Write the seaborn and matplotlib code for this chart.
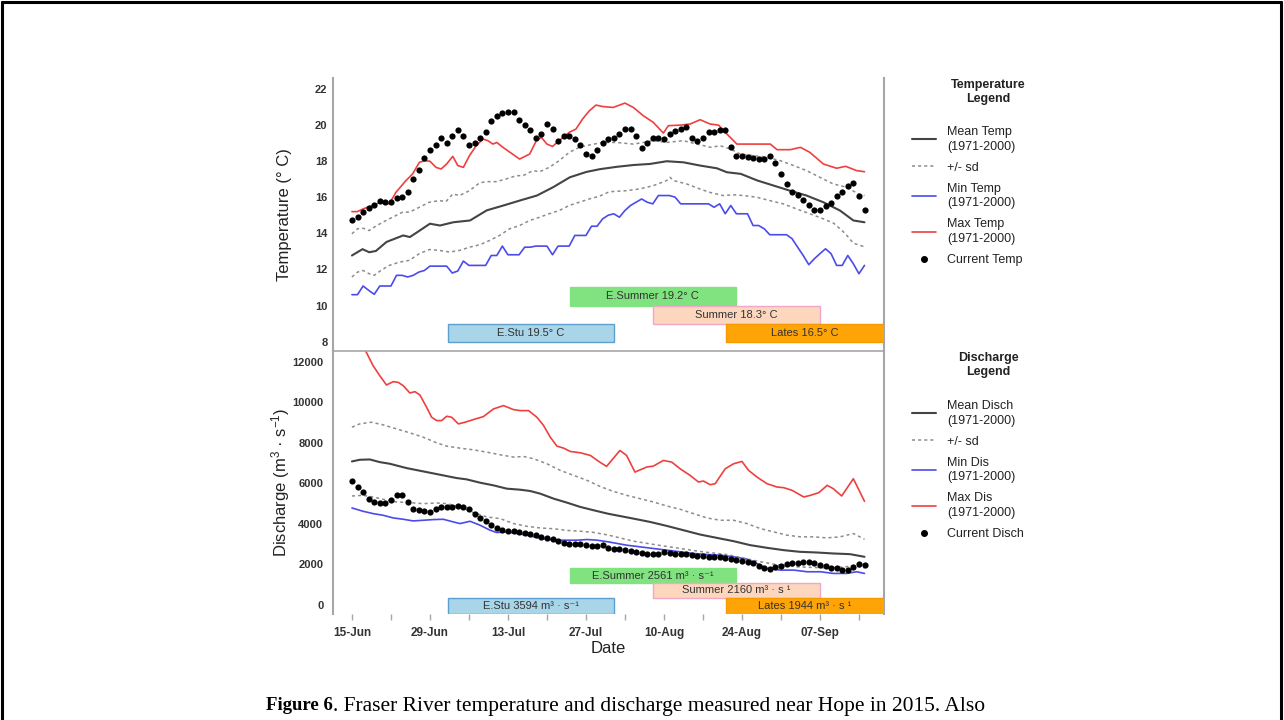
import pandas as pd
import seaborn as sns
import matplotlib.pyplot as plt
from matplotlib.lines import Line2D

# day 0 = 15-Jun-2015, daily readings up to 15-Sep
start = pd.Timestamp("2015-06-15")
days = list(range(93))

# ---- temperature panel (deg C) ----
temp_current = [14.71, 14.89, 15.20, 15.41, 15.59, 15.77, 15.76, 15.76, 15.96, 16.00,
                16.27, 17.01, 17.52, 18.19, 18.63, 18.89, 19.28, 19.00, 19.40, 19.70,
                19.40, 18.91, 18.98, 19.29, 19.62, 20.21, 20.49, 20.66, 20.71, 20.69,
                20.27, 19.99, 19.70, 19.25, 19.50, 20.08, 19.77, 19.11, 19.40, 19.40,
                19.20, 18.91, 18.39, 18.28, 18.63, 18.98, 19.20, 19.28, 19.48, 19.79,
                19.79, 19.40, 18.72, 18.98, 19.28, 19.28, 19.22, 19.50, 19.68, 19.79,
                19.90, 19.28, 19.09, 19.29, 19.61, 19.61, 19.70, 19.70, 18.80, 18.30,
                18.30, 18.24, 18.15, 18.11, 18.11, 18.30, 17.89, 17.30, 16.71, 16.29,
                16.13, 15.83, 15.59, 15.31, 15.31, 15.50, 15.70, 16.09, 16.29, 16.60,
                16.81, 16.09, 15.30]

t_mean_day = [0, 1.9, 3.1, 4.3, 6.2, 9.2, 10.4, 12.2, 14, 15.8, 18.2, 21.2, 24.2, 27.2,
              30.2, 33.2, 36.1, 39.1, 42.1, 44.5, 47.5, 50.5, 53.5, 56.5, 59.5, 62.5,
              65.5, 67.3, 69.8, 72.8, 75.7, 78.6, 81.6, 84.6, 87.6, 90, 92]
t_mean = [12.77, 13.12, 12.95, 13.02, 13.52, 13.88, 13.79, 14.16, 14.53, 14.43, 14.61,
          14.71, 15.27, 15.54, 15.82, 16.09, 16.55, 17.10, 17.40, 17.55, 17.68, 17.78,
          17.84, 17.99, 17.93, 17.75, 17.60, 17.38, 17.29, 16.92, 16.64, 16.36, 16.09,
          15.72, 15.26, 14.71, 14.61]

t_sdhi_day = [0, 1, 2, 3.1, 4, 5.5, 7.3, 9.1, 10.3, 12.1, 13.9, 15.7, 16.9, 18.1, 19.3,
              21.1, 22.9, 24.1, 25.9, 27.7, 29.5, 30.7, 32.5, 33.7, 35.4, 37.2, 39, 40.8,
              42.6, 45, 47.5, 50.5, 52.3, 54.1, 56.5, 59.5, 61.9, 64.4, 66.1, 67.9, 69.7,
              72.1, 74.5, 76.9, 79.3, 81.6, 84, 86.4, 88.8, 90.9, 92]
t_sdhi = [13.97, 14.25, 14.28, 14.15, 14.34, 14.61, 14.89, 15.17, 15.17, 15.44, 15.72,
          15.81, 15.76, 16.18, 16.09, 16.36, 16.79, 16.86, 16.86, 17.01, 17.19, 17.19,
          17.47, 17.41, 17.65, 18.02, 18.48, 18.76, 18.89, 19.03, 19.03, 18.94, 19.03,
          19.13, 19.03, 19.13, 18.94, 18.76, 18.85, 18.67, 18.39, 18.30, 18.21, 18.02,
          17.75, 17.47, 17.10, 16.73, 16.55, 16.18, 16.09]

t_sdlo_day = [0, 1, 2, 3.1, 4, 5.2, 6.7, 8.5, 10.3, 12.1, 13.9, 15.7, 17.5, 19.3, 21.1,
              22.9, 24.7, 26.5, 28.3, 30.1, 31.9, 33.7, 35.4, 37.2, 39, 40.8, 42.6, 44.4,
              46.2, 49.3, 51.7, 54.1, 56.5, 57.1, 57.7, 60.1, 62.4, 64.2, 66.6, 68.5, 70.3,
              72.6, 75, 77.4, 79.8, 82.2, 84.6, 86.5, 88.5, 90, 92]
t_sdlo = [11.58, 11.85, 11.94, 11.76, 11.67, 11.94, 12.22, 12.40, 12.50, 12.87, 13.10,
          13.05, 12.96, 13.05, 13.23, 13.36, 13.60, 13.88, 14.25, 14.43, 14.71, 14.89,
          15.08, 15.26, 15.54, 15.72, 15.90, 16.05, 16.30, 16.36, 16.46, 16.64, 16.92,
          17.10, 16.92, 16.73, 16.46, 16.27, 16.09, 16.13, 16.09, 16.00, 15.81, 15.63,
          15.35, 15.08, 14.80, 14.55, 14.00, 13.45, 13.25]

t_min_day = [0, 1, 2, 3, 4, 5, 7, 8, 9, 10, 11, 12, 13, 14, 17, 18, 19, 20, 21, 24, 25,
             26, 27, 28, 30, 31, 32, 33, 35, 36, 37, 39, 40, 42, 43, 44, 45, 46, 47, 48,
             49, 50, 51, 52, 53, 54, 55, 57, 58, 59, 64, 65, 66, 67, 68, 69, 71, 72, 73,
             74, 75, 78, 79, 80, 81, 82, 83, 84, 85, 86, 87, 88, 89, 90, 91, 92]
t_min = [10.60, 10.60, 11.08, 10.84, 10.62, 11.08, 11.08, 11.67, 11.67, 11.58, 11.67,
         11.85, 11.94, 12.18, 12.18, 11.80, 11.91, 12.46, 12.22, 12.22, 12.77, 12.77,
         13.29, 12.81, 12.81, 13.23, 13.23, 13.29, 13.29, 12.81, 13.29, 13.29, 13.88,
         13.88, 14.39, 14.39, 14.80, 15.00, 15.08, 14.89, 15.26, 15.54, 15.72, 15.90,
         15.72, 15.63, 16.09, 16.09, 16.00, 15.63, 15.63, 15.44, 15.63, 15.08, 15.54,
         15.08, 15.08, 14.43, 14.43, 14.25, 13.92, 13.92, 13.70, 13.23, 12.77, 12.26,
         12.59, 12.87, 13.14, 12.87, 12.22, 12.22, 12.77, 12.31, 11.76, 12.22]

t_max_day = [0, 1, 2, 3.7, 5, 6.7, 7.9, 9.7, 10.9, 12.1, 13.1, 14, 15.1, 16, 17, 18.1, 19,
             20, 21.1, 22.3, 23.5, 24.4, 25.3, 26, 27.1, 30.1, 31.9, 33.1, 34, 35, 36,
             37.2, 39, 40.2, 41.4, 42.6, 43.8, 45, 46.9, 49, 50.5, 52.3, 54.1, 55.9, 56.8,
             58.9, 60.7, 62.5, 64.3, 65.8, 67, 69.1, 75.1, 76.3, 78.7, 80.5, 82.2, 84.6,
             87, 88.6, 90.6, 92]
t_max = [15.20, 15.20, 15.35, 15.54, 15.70, 15.63, 16.27, 16.92, 17.29, 17.93, 18.02,
         17.99, 17.65, 17.56, 17.84, 18.26, 17.75, 17.65, 18.30, 18.85, 19.22, 19.13,
         18.94, 19.03, 18.76, 18.11, 18.39, 19.13, 19.31, 18.94, 18.81, 19.13, 19.59,
         19.77, 20.33, 20.78, 21.10, 21.02, 20.97, 21.21, 20.97, 20.51, 20.14, 19.55,
         19.96, 19.99, 20.05, 20.29, 20.05, 19.99, 19.59, 18.94, 18.94, 18.63, 18.63,
         18.76, 18.48, 17.84, 17.60, 17.71, 17.47, 17.41]

# ---- discharge panel (m3/s) ----
disch_current = [6098, 5819, 5574, 5246, 5082, 5049, 5049, 5164, 5410, 5410,
                 5082, 4754, 4672, 4623, 4590, 4754, 4836, 4836, 4836, 4869,
                 4836, 4721, 4508, 4311, 4147, 3934, 3803, 3689, 3656, 3656,
                 3607, 3574, 3525, 3443, 3361, 3311, 3246, 3148, 3082, 3033,
                 3033, 3033, 2951, 2902, 2918, 2951, 2820, 2754, 2738, 2705,
                 2672, 2623, 2541, 2508, 2508, 2508, 2590, 2541, 2492, 2492,
                 2492, 2459, 2426, 2426, 2377, 2344, 2344, 2295, 2262, 2213,
                 2164, 2131, 2049, 1934, 1803, 1770, 1885, 1934, 2000, 2049,
                 2049, 2098, 2098, 2049, 1967, 1918, 1836, 1803, 1721, 1721,
                 1885, 2000, 1967]

q_mean_day = [0, 1.4, 3.2, 5, 6.8, 9.8, 12.8, 15.8, 18.8, 20.6, 23, 25.4, 27.8, 30.2, 32,
              33.8, 36.2, 38.6, 41, 43.4, 46, 50.5, 53.5, 56.5, 59.5, 62.5, 65.5, 68.5,
              71.5, 74.5, 77.5, 80.4, 83.4, 86.4, 89.4, 92]
q_mean = [7082, 7164, 7180, 7049, 6967, 6754, 6590, 6426, 6262, 6197, 6033, 5902, 5738,
          5688, 5623, 5492, 5246, 5049, 4836, 4672, 4500, 4262, 4098, 3902, 3689, 3475,
          3311, 3148, 2951, 2820, 2705, 2623, 2590, 2541, 2508, 2377]

q_sdhi_day = [0, 1.4, 3.5, 5.6, 8, 10.4, 12.8, 15.2, 17, 19.4, 21.8, 24.2, 26.6, 29, 30.8,
              32.6, 35, 37.4, 39.8, 42.2, 44.6, 46.9, 49.3, 51.7, 54.1, 56.5, 58.9, 61.3,
              63.7, 66.1, 68.5, 70.9, 73.3, 75.7, 78.1, 80.5, 82.9, 85.2, 87.6, 90, 92]
q_sdhi = [8770, 8934, 9016, 8885, 8688, 8492, 8278, 8000, 7836, 7738, 7655, 7541, 7410,
          7295, 7328, 7213, 6967, 6639, 6393, 6148, 5840, 5607, 5410, 5246, 5082, 4885,
          4721, 4508, 4295, 4180, 4180, 4016, 3770, 3607, 3443, 3361, 3361, 3311, 3361,
          3525, 3246]

q_sdlo_day = [0, 2, 3.8, 5.6, 8, 10.4, 12.8, 15.2, 17, 19.4, 21.8, 24.2, 26.6, 29, 31.4,
              33.8, 36.2, 38.6, 41, 43.4, 46, 50.5, 55, 62.5, 67.5, 70, 73, 76, 80, 85, 88,
              90, 92]
q_sdlo = [5377, 5410, 5328, 5213, 5082, 5049, 5000, 5033, 5000, 4836, 4557, 4344, 4262,
          4016, 3880, 3800, 3760, 3680, 3640, 3580, 3450, 3150, 2950, 2640, 2480, 2330,
          2150, 2000, 1880, 1830, 1870, 1920, 1830]

q_min_day = [0, 2, 3.8, 5.6, 7.4, 9.2, 11, 12.8, 14.6, 16.4, 18.2, 19.4, 21.2, 23, 24.8,
             26, 27.8, 29.6, 31.4, 33.2, 35, 36.8, 38.6, 40.4, 42.2, 44, 46, 49.3, 51.7,
             54.1, 56.5, 58.9, 61.3, 63.7, 66.1, 68.5, 70.9, 72.7, 74.5, 76.9, 79.3, 81.7,
             84.1, 86.4, 88.8, 90.6, 92]
q_min = [4787, 4623, 4508, 4426, 4295, 4229, 4147, 4180, 4213, 4229, 4098, 4016, 4131,
         3934, 3689, 3574, 3607, 3525, 3443, 3328, 3246, 3197, 3197, 3197, 3229, 3197,
         3115, 2951, 2869, 2787, 2705, 2623, 2541, 2492, 2459, 2377, 2262, 2049, 1803,
         1721, 1721, 1639, 1639, 1557, 1557, 1639, 1557]

q_max_day = [0, 2.6, 3.8, 5, 6.2, 7.4, 8.3, 9.2, 10.4, 11.3, 12.2, 13.4, 14.3, 15.2, 16.1,
             17, 17.9, 19.1, 20.3, 21.8, 23.6, 25.4, 27.2, 29, 30.2, 31.7, 33.2, 34.4,
             35.6, 36.8, 38, 39.2, 41, 42.8, 44.3, 45.7, 48.1, 49.3, 50.8, 52.9, 54.1,
             55.9, 57.4, 58.9, 60.7, 62.2, 63.1, 64.3, 65.2, 67, 68.5, 70, 71.2, 72.7,
             74.5, 76.3, 77.5, 79, 81.1, 82.3, 83.8, 85.3, 86.4, 87.9, 90, 92]
q_max = [13600, 12459, 11803, 11311, 10853, 11016, 10983, 10820, 10459, 10525, 10361,
         9754, 9262, 9098, 9098, 9311, 9262, 8934, 9016, 9147, 9295, 9672, 9836, 9639,
         9590, 9590, 9262, 8852, 8278, 7836, 7738, 7574, 7508, 7377, 7082, 6836, 7623,
         7377, 6557, 6803, 6852, 7131, 7049, 6721, 6393, 6066, 6115, 5934, 5984, 6721,
         6967, 7082, 6639, 6311, 5984, 5820, 5787, 5656, 5328, 5410, 5541, 5902, 5738,
         5377, 6229, 5115]

# ---- run timing bars ----
run_start = [17.2, 39.1, 54.0, 67.1]
run_end = [47.1, 68.9, 84.1, 95.5]
run_labels_t = ["E.Stu 19.5° C", "E.Summer 19.2° C", "Summer 18.3° C", "Lates 16.5° C"]
run_labels_q = ["E.Stu 3594 m³ · s⁻¹", "E.Summer 2561 m³ · s⁻¹",
                "Summer 2160 m³ · s ¹", "Lates 1944 m³ · s ¹"]
run_fill = ['#a9d5e8', '#80e37f', '#fcd7bd', '#ffa406']
run_edge = ['#5f9fd0', '#80e37f', '#f0a8c8', '#f59a00']

legend_t = ["Mean Temp\n(1971-2000)", "+/- sd", "Min Temp\n(1971-2000)",
            "Max Temp\n(1971-2000)", "Current Temp"]
legend_q = ["Mean Disch\n(1971-2000)", "+/- sd", "Min Dis\n(1971-2000)",
            "Max Dis\n(1971-2000)", "Current Disch"]

sns.set_theme(style="white")
plt.rcParams['font.family'] = ['Liberation Sans', 'DejaVu Sans']
plt.rcParams['mathtext.default'] = 'regular'

W, H = 1284, 720
fig = plt.figure(figsize=(W / 100, H / 100), dpi=100)
fig.patch.set_facecolor('white')


def box(left, top, right, bottom):
    return [left / W, 1 - bottom / H, (right - left) / W, (bottom - top) / H]


ax_t = fig.add_axes(box(333, 78, 884, 351))
ax_q = fig.add_axes(box(333, 351, 884, 613.5))

c_mean, c_sd, c_min, c_max = '#444444', '#8c8c8c', '#4b4bea', '#ee4040'
dot = (0, (2, 2))


def draw_lines(ax, cur, mean, sdhi, sdlo, mn, mx):
    sns.lineplot(x=mn[0], y=mn[1], ax=ax, color=c_min, lw=1.2)
    sns.lineplot(x=mx[0], y=mx[1], ax=ax, color=c_max, lw=1.2)
    sns.lineplot(x=sdhi[0], y=sdhi[1], ax=ax, color=c_sd, lw=1.1, linestyle=dot)
    sns.lineplot(x=sdlo[0], y=sdlo[1], ax=ax, color=c_sd, lw=1.1, linestyle=dot)
    sns.lineplot(x=mean[0], y=mean[1], ax=ax, color=c_mean, lw=1.5)
    sns.scatterplot(x=days, y=cur, ax=ax, color='black', s=20, linewidth=0, zorder=5)


draw_lines(ax_t, temp_current, (t_mean_day, t_mean), (t_sdhi_day, t_sdhi),
           (t_sdlo_day, t_sdlo), (t_min_day, t_min), (t_max_day, t_max))
draw_lines(ax_q, disch_current, (q_mean_day, q_mean), (q_sdhi_day, q_sdhi),
           (q_sdlo_day, q_sdlo), (q_min_day, q_min), (q_max_day, q_max))

# run bars: temperature rows in deg C, discharge rows in m3/s
rows_t = [(8, 1), (10, 1), (9, 1), (8, 1)]
rows_q = [(-420, 770), (1080, 730), (350, 730), (-420, 770)]
for ax, rows, labels in [(ax_t, rows_t, run_labels_t), (ax_q, rows_q, run_labels_q)]:
    for i, (y0, h) in enumerate(rows):
        ax.barh(y0, run_end[i] - run_start[i], left=run_start[i], height=h, align='edge',
                color=run_fill[i], edgecolor=run_edge[i], linewidth=1, zorder=3)
        ax.text((run_start[i] + run_end[i]) / 2, y0 + h / 2, labels[i], ha='center',
                va='center', fontsize=8, color='#333333', zorder=4)

for ax in (ax_t, ax_q):
    ax.set_xlim(-3.4, 95.5)
    for s in ('left', 'right'):
        ax.spines[s].set_color('#a6a6a6')
        ax.spines[s].set_linewidth(1.5)
    ax.tick_params(axis='y', left=False, length=0, labelsize=8, colors='#333333')
    ax.set_xlabel('')

ax_t.set_ylim(7.48, 22.6)
ax_t.set_yticks(range(8, 23, 2))
ax_t.spines['top'].set_visible(False)
ax_t.spines['bottom'].set_visible(False)
ax_t.set_xticks([])
ax_t.tick_params(axis='y', pad=4)
for lab in ax_t.get_yticklabels():
    lab.set_fontweight('bold')

ax_q.set_ylim(-420, 12530)
ax_q.set_yticks(range(0, 12001, 2000))
ax_q.spines['bottom'].set_visible(False)
ax_q.spines['top'].set_color('#a6a6a6')
ax_q.spines['top'].set_linewidth(1.2)
ax_q.tick_params(axis='y', pad=7)
for lab in ax_q.get_yticklabels():
    lab.set_fontweight('bold')

major = list(range(0, 85, 14))
ax_q.set_xticks(major)
ax_q.set_xticks(list(range(7, 93, 14)), minor=True)
ax_q.set_xticklabels([(start + pd.Timedelta(days=d)).strftime('%d-%b') for d in major],
                     fontsize=8.5, fontweight='bold', color='#333333')
ax_q.tick_params(axis='x', which='both', bottom=True, direction='out', length=4,
                 width=1, color='#a6a6a6', pad=6)

ax_t.set_ylabel("Temperature (° C)", fontsize=12, color='#222222')
ax_t.yaxis.set_label_coords(-0.074, 0.5)
ax_q.set_ylabel("Discharge (m$^3$ · s$^{-1}$)", fontsize=12, color='#222222')
ax_q.yaxis.set_label_coords(-0.074, 0.5)
ax_q.set_xlabel("Date", fontsize=12, color='#222222')
ax_q.xaxis.set_label_coords(0.499, -0.105)


def add_legend(ax, title, labels, top, first):
    fig.text(988 / W, 1 - top / H, title, ha='center', va='top', fontsize=9,
             fontweight='bold', color='#222222', linespacing=1.25)
    handles = [Line2D([], [], color=c_mean, lw=1.5),
               Line2D([], [], color=c_sd, lw=1.1, ls=dot),
               Line2D([], [], color=c_min, lw=1.2),
               Line2D([], [], color=c_max, lw=1.2),
               Line2D([], [], color='black', marker='o', ls='none', markersize=4)]
    leg = ax.legend(handles, labels, loc='upper left',
                    bbox_to_anchor=(912 / W, 1 - first / H),
                    bbox_transform=fig.transFigure, frameon=False, fontsize=9,
                    handlelength=1.9, handletextpad=0.9, labelspacing=0.72,
                    borderpad=0, borderaxespad=0)
    for t in leg.get_texts():
        t.set_color('#222222')
        t.set_linespacing(1.3)


add_legend(ax_t, "Temperature\nLegend", legend_t, 79, 126)
add_legend(ax_q, "Discharge\nLegend", legend_q, 352, 400)

# page frame
for xs, ys in [([2, 2], [720, 2]), ([2, 1281], [2, 2]), ([1281, 1281], [2, 720])]:
    fig.add_artist(Line2D([x / W for x in xs], [1 - y / H for y in ys],
                          color='black', lw=2.2))

cap = fig.text(266 / W, 1 - 706 / H, "Figure 6", fontsize=13.5, fontweight='bold',
               family='Liberation Serif', va='center', color='black')
fig.canvas.draw()
bb = cap.get_window_extent()
fig.text(bb.x1 / W, 1 - 706 / H,
         ". Fraser River temperature and discharge measured near Hope in 2015. Also",
         fontsize=15.5, family='Liberation Serif', va='center', color='black')

fig.savefig('out.png', dpi=100)
